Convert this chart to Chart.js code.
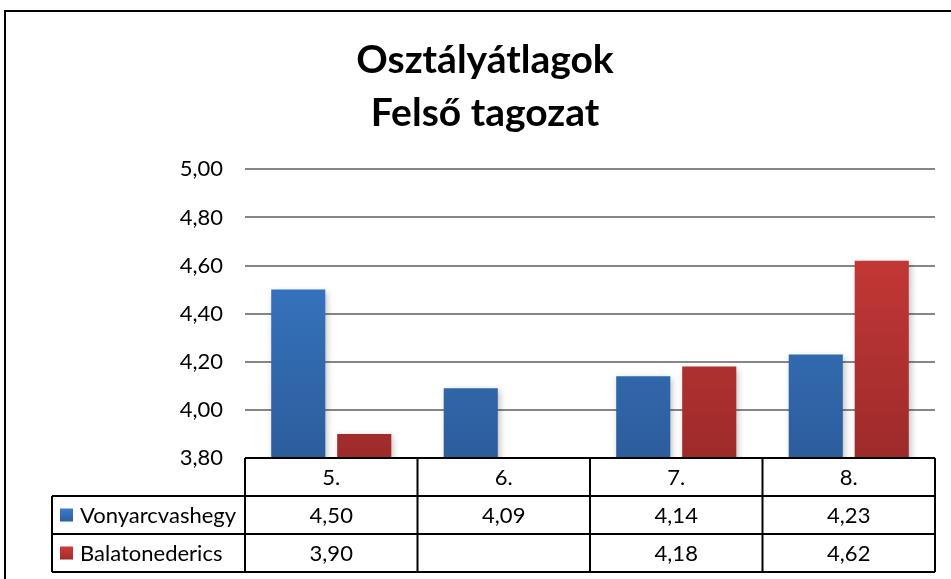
<!DOCTYPE html>
<html>
<head>
<meta charset="utf-8">
<script src="https://cdn.jsdelivr.net/npm/chart.js@4/dist/chart.umd.min.js"></script>
<style>
    html, body { margin: 0; padding: 0; background: #fff; }
    #wrap { width: 951px; height: 579px; }
</style>
</head>
<body>
<div id="wrap"><canvas id="chart" width="951" height="579"></canvas></div>
<script>
// Adatok
const titleLines = ["Osztályátlagok", "Felső tagozat"];
const categories = ["5.", "6.", "7.", "8."];
const seriesNames = ["Vonyarcvashegy", "Balatonederics"];
const vonyarcvashegy = [4.50, 4.09, 4.14, 4.23];
const balatonederics = [3.90, null, 4.18, 4.62];
const yMin = 3.8;
const yMax = 5.0;
const yStep = 0.2;

const FONT = "Lato, 'Open Sans', sans-serif";

const fmt = v => v.toFixed(2).replace(".", ",");

// színátmenet az oszlopokhoz
function barGradient(ctx, top, bottom) {
    const chart = ctx.chart;
    const area = chart.chartArea;
    if (!area) return top;
    const g = chart.ctx.createLinearGradient(0, area.top, 0, area.bottom);
    g.addColorStop(0, top);
    g.addColorStop(1, bottom);
    return g;
}

// keret a diagram körül
const framePlugin = {
    id: "frame",
    beforeDraw(chart) {
        const ctx = chart.ctx;
        ctx.save();
        ctx.fillStyle = "#fff";
        ctx.fillRect(0, 0, chart.width, chart.height);
        ctx.strokeStyle = "#000";
        ctx.lineWidth = 2;
        ctx.strokeRect(5, 11, chart.width + 20, chart.height + 20);
        ctx.restore();
    }
};

// árnyék az oszlopok alatt
const shadowPlugin = {
    id: "barShadow",
    beforeDatasetsDraw(chart) {
        const ctx = chart.ctx;
        ctx.save();
        ctx.shadowColor = "rgba(0,0,0,0.28)";
        ctx.shadowBlur = 7;
        ctx.shadowOffsetX = 2;
        ctx.shadowOffsetY = 2;
    },
    afterDatasetsDraw(chart) {
        chart.ctx.restore();
    }
};

// adattáblázat a diagram alatt
const tablePlugin = {
    id: "dataTable",
    afterDraw(chart) {
        const ctx = chart.ctx;
        const x = chart.scales.x;
        const area = chart.chartArea;
        const half = (x.getPixelForValue(1) - x.getPixelForValue(0)) / 2;
        const rowH = 38;
        const top = area.bottom;
        const legendLeft = 52;
        const colors = [["#3b7dd0", "#2c5d9b"], ["#d13c39", "#9d2b2a"]];
        const rows = [vonyarcvashegy, balatonederics];

        ctx.save();
        ctx.strokeStyle = "#000";
        ctx.lineWidth = 2;

        ctx.beginPath();
        ctx.moveTo(area.left, top);
        ctx.lineTo(area.right, top);
        for (let r = 1; r <= 3; r++) {
            ctx.moveTo(legendLeft, top + r * rowH);
            ctx.lineTo(area.right, top + r * rowH);
        }
        ctx.moveTo(legendLeft, top + rowH);
        ctx.lineTo(legendLeft, top + 3 * rowH);
        categories.forEach((c, i) => {
            const l = x.getPixelForValue(i) - half;
            ctx.moveTo(l, top);
            ctx.lineTo(l, top + 3 * rowH);
        });
        ctx.moveTo(area.right, top);
        ctx.lineTo(area.right, top + 3 * rowH);
        ctx.stroke();

        ctx.fillStyle = "#000";
        ctx.font = "22px " + FONT;
        ctx.textBaseline = "middle";
        ctx.textAlign = "center";
        categories.forEach((c, i) => {
            const cx = x.getPixelForValue(i);
            ctx.fillText(c, cx, top + rowH / 2 + 1);
            rows.forEach((r, j) => {
                if (r[i] !== null) ctx.fillText(fmt(r[i]), cx, top + rowH * (j + 1.5) + 1);
            });
        });

        ctx.textAlign = "left";
        seriesNames.forEach((name, j) => {
            const cy = top + rowH * (j + 1.5);
            const g = ctx.createLinearGradient(0, cy - 7, 0, cy + 7);
            g.addColorStop(0, colors[j][0]);
            g.addColorStop(1, colors[j][1]);
            ctx.fillStyle = g;
            ctx.fillRect(60, cy - 6.5, 13, 13);
            ctx.fillStyle = "#000";
            ctx.fillText(name, 80, cy + 1);
        });
        ctx.restore();
    }
};

new Chart(document.getElementById("chart"), {
    type: "bar",
    data: {
        labels: categories,
        datasets: [
            {
                label: seriesNames[0],
                data: vonyarcvashegy,
                backgroundColor: c => barGradient(c, "#3c80d3", "#2c5d9b"),
                categoryPercentage: 0.765,
                barPercentage: 0.82
            },
            {
                label: seriesNames[1],
                data: balatonederics,
                backgroundColor: c => barGradient(c, "#d33d3a", "#9d2b2a"),
                categoryPercentage: 0.765,
                barPercentage: 0.82
            }
        ]
    },
    options: {
        responsive: false,
        animation: false,
        layout: { padding: { top: 11, right: 16, bottom: 121, left: 35 } },
        plugins: {
            legend: { display: false },
            tooltip: { enabled: false },
            title: {
                display: true,
                text: titleLines,
                color: "#000",
                font: { family: FONT, size: 39, weight: "bold", lineHeight: 1.35 },
                padding: { top: 23, bottom: 30 }
            }
        },
        scales: {
            x: { display: false },
            y: {
                min: yMin,
                max: yMax,
                afterFit: s => { s.width = 210; },
                border: { display: false },
                grid: { color: "#868686", lineWidth: 2, drawTicks: false },
                ticks: {
                    stepSize: yStep,
                    padding: 22,
                    color: "#000",
                    font: { family: FONT, size: 22 },
                    callback: v => fmt(v)
                }
            }
        }
    },
    plugins: [framePlugin, shadowPlugin, tablePlugin]
});
</script>
</body>
</html>
